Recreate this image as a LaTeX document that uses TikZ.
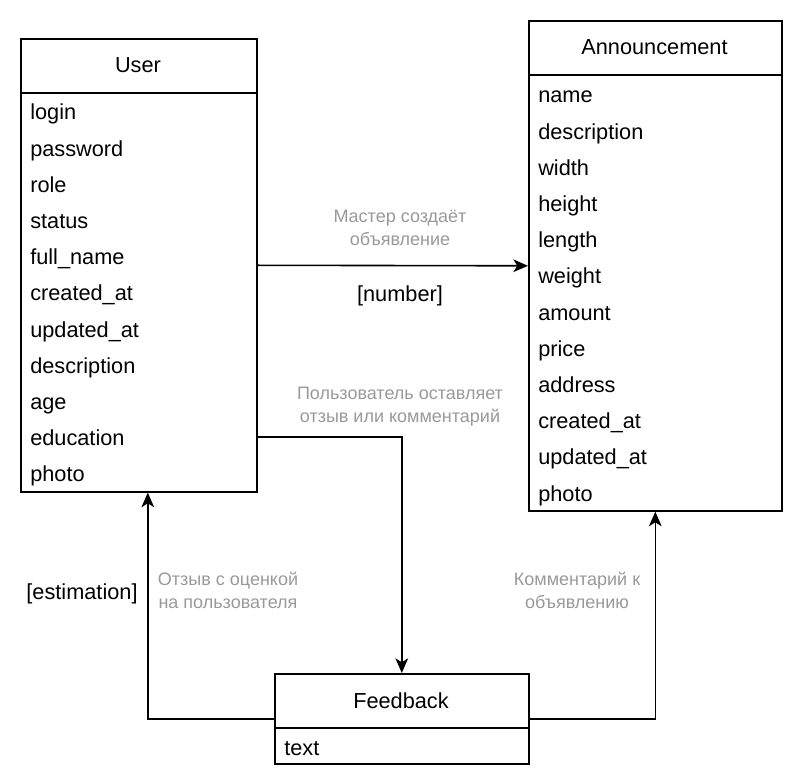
\documentclass[tikz,border=0pt]{standalone}
\usepackage{fontspec}
\setmainfont{Liberation Sans}
\usepackage{tikz}
\usepackage{xcolor}
\usetikzlibrary{arrows.meta}

\definecolor{labelgray}{HTML}{999999}

\tikzset{
    entity/.style={draw, line width=1.2pt, anchor=north west, inner sep=0pt},
    title/.style={font=\fontsize{16.3pt}{19pt}\selectfont},
    field/.style={anchor=west, inner sep=0pt, text height=15pt, text depth=1.5pt,
                  font=\fontsize{16.3pt}{19pt}\selectfont},
    note/.style={align=center, text=labelgray, font=\fontsize{13.5pt}{17.25pt}\selectfont},
    link/.style={line width=1.2pt, -{Stealth[length=11pt, width=9.5pt, inset=3pt]}}
}

\begin{document}
\begin{tikzpicture}[x=0.75pt, y=-0.75pt]
        \useasboundingbox (0,0) rectangle (797,780);

        % User entity
        \node[entity, minimum width=177pt, minimum height=339.75pt] (user) at (20,38) {};
        \node[title] (usertitle) at (138,65.5) {User};
        \draw[line width=1.2pt] (20,93) -- (256,93);
        \foreach \f [count=\i] in {login, password, role, status, full\_name, created\_at,
                                   updated\_at, description, age, education, photo}
            \node[field] (u\i) at (30,{74.8+36.2*\i}) {\f};

        % Announcement entity
        \node[entity, minimum width=189.75pt, minimum height=367.5pt] (ann) at (528,20) {};
        \node[title] (anntitle) at (654.5,47.5) {Announcement};
        \draw[line width=1.2pt] (528,75) -- (781,75);
        \foreach \f [count=\i] in {name, description, width, height, length, weight, amount,
                                   price, address, created\_at, updated\_at, photo}
            \node[field] (a\i) at (538,{57.8+36.2*\i}) {\f};

        % Feedback entity
        \node[entity, minimum width=190.5pt, minimum height=67.5pt] (fb) at (274,673) {};
        \node[title] (fbtitle) at (401,700.5) {Feedback};
        \draw[line width=1.2pt] (274,728) -- (528,728);
        \node[field] (f1) at (284,746) {text};

        % Connectors
        \draw[link] (user.east) -- (ann.west);
        \draw[link] (user.east |- u10) -| (fb.north);
        \draw[link] (fb.west) -| ([xshift=6.75pt]user.south);
        \draw[link] (fb.east) -| (ann.south);

        % Labels on the connectors
        \node[note] (l1) at (400,228) {Мастер создаёт\\объявление};
        \node[field, anchor=center] (l1b) at (400,293) {[number]};
        \node[note] (l2) at (400,407) {Пользователь оставляет\\отзыв или комментарий};
        \node[note] (l3) at (228,590) {Отзыв с оценкой\\на пользователя};
        \node[field, anchor=center] (l3b) at (82,591) {[estimation]};
        \node[note] (l4) at (577,590) {Комментарий к\\объявлению};
\end{tikzpicture}
\end{document}
